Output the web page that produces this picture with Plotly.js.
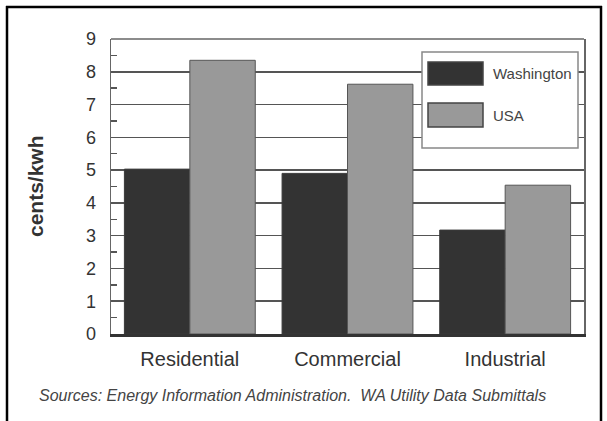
<!DOCTYPE html>
<html>
<head>
<meta charset="utf-8">
<script src="https://cdn.plot.ly/plotly-3.0.1.min.js"></script>
<style>
  html, body { margin: 0; padding: 0; background: #fff; }
  #chart { width: 607px; height: 421px; }
</style>
</head>
<body>
<div id="chart"></div>
<script>
// Average electricity price by sector, cents per kWh
const sectors = ['Residential', 'Commercial', 'Industrial'];
const seriesNames = ['Washington', 'USA'];
const washington = [5.03, 4.90, 3.17];
const usa = [8.35, 7.62, 4.54];
const yTicks = [0, 1, 2, 3, 4, 5, 6, 7, 8, 9];

const W = 607, H = 421;
const M = { l: 111, r: 23, t: 39, b: 87 };
const PW = W - M.l - M.r, PH = H - M.t - M.b;
// pixel -> paper helpers for the decorations around the plot
const px = v => (v - M.l) / PW;
const py = v => (H - M.b - v) / PH;

const FONT = 'Liberation Sans, Arial, Helvetica, sans-serif';
const DARK = '#333333', LIGHT = '#999999';

const traces = [
  { type: 'bar', name: seriesNames[0], x: sectors, y: washington,
    marker: { color: DARK, line: { color: '#3a3a3a', width: 1 } }, hoverinfo: 'x+y+name' },
  { type: 'bar', name: seriesNames[1], x: sectors, y: usa,
    marker: { color: LIGHT, line: { color: '#555555', width: 1 } }, hoverinfo: 'x+y+name' }
];

// hand-drawn legend with large swatches
const legendRows = [
  { name: seriesNames[0], color: DARK, top: 62, bottom: 85 },
  { name: seriesNames[1], color: LIGHT, top: 103, bottom: 127 }
];

const shapes = [
  // outer frame (top, left, right)
  { type: 'line', xref: 'paper', yref: 'paper', x0: px(6), x1: px(602), y0: py(7), y1: py(7),
    line: { color: '#000', width: 2.5 } },
  { type: 'line', xref: 'paper', yref: 'paper', x0: px(7), x1: px(7), y0: py(6), y1: py(425),
    line: { color: '#000', width: 2.5 } },
  { type: 'line', xref: 'paper', yref: 'paper', x0: px(601), x1: px(601), y0: py(6), y1: py(425),
    line: { color: '#000', width: 2.5 } },
  // top border of the plot box
  { type: 'line', xref: 'paper', yref: 'paper', x0: 0, x1: 1, y0: 1, y1: 1,
    line: { color: '#666', width: 1.5 } },
  // legend box
  { type: 'rect', xref: 'paper', yref: 'paper', layer: 'above',
    x0: px(422), x1: px(578), y0: py(148), y1: py(52),
    fillcolor: '#fff', line: { color: '#888', width: 1.5 } }
];
const annotations = [
  { xref: 'paper', yref: 'paper', x: px(35), y: py(186), xanchor: 'center', yanchor: 'middle',
    text: '<b>cents/kwh</b>', textangle: -90, showarrow: false,
    font: { family: FONT, size: 21, color: '#333' } },
  { xref: 'paper', yref: 'paper', x: px(37), y: py(395), xanchor: 'left', yanchor: 'middle',
    text: '<i>Sources: Energy Information Administration.  WA Utility Data Submittals</i>',
    showarrow: false, font: { family: FONT, size: 16, color: '#444' } }
];
legendRows.forEach(r => {
  shapes.push({ type: 'rect', xref: 'paper', yref: 'paper', layer: 'above',
    x0: px(428), x1: px(483), y0: py(r.bottom), y1: py(r.top),
    fillcolor: r.color, line: { color: '#444', width: 1.5 } });
  annotations.push({ xref: 'paper', yref: 'paper', x: px(491), y: py((r.top + r.bottom) / 2),
    xanchor: 'left', yanchor: 'middle', text: r.name, showarrow: false,
    font: { family: FONT, size: 15, color: '#444' } });
});

const layout = {
  width: W, height: H,
  margin: M,
  paper_bgcolor: '#fff', plot_bgcolor: '#fff',
  showlegend: false,
  barmode: 'group', bargap: 0.17, bargroupgap: 0,
  font: { family: FONT, color: '#333' },
  xaxis: {
    type: 'category', categoryarray: sectors,
    showline: true, linecolor: '#333', linewidth: 2.5,
    ticks: '', showgrid: false, zeroline: false,
    tickfont: { family: FONT, size: 20, color: '#333' },
    ticklabelstandoff: 5
  },
  yaxis: {
    range: [0, 9], tickvals: yTicks, ticktext: yTicks.map(String),
    showline: true, linecolor: '#666', linewidth: 1.5, mirror: true,
    ticks: 'inside', ticklen: 6, tickcolor: '#555', tickwidth: 1.5,
    showgrid: true, gridcolor: '#555', gridwidth: 1.5, zeroline: false,
    minor: { dtick: 0.5, ticks: 'inside', ticklen: 6, tickcolor: '#555', tickwidth: 1.5, showgrid: false },
    tickfont: { family: FONT, size: 18, color: '#333' },
    ticklabelstandoff: 10
  },
  shapes: shapes,
  annotations: annotations
};

Plotly.newPlot('chart', traces, layout, { displayModeBar: false, staticPlot: true });
</script>
</body>
</html>
